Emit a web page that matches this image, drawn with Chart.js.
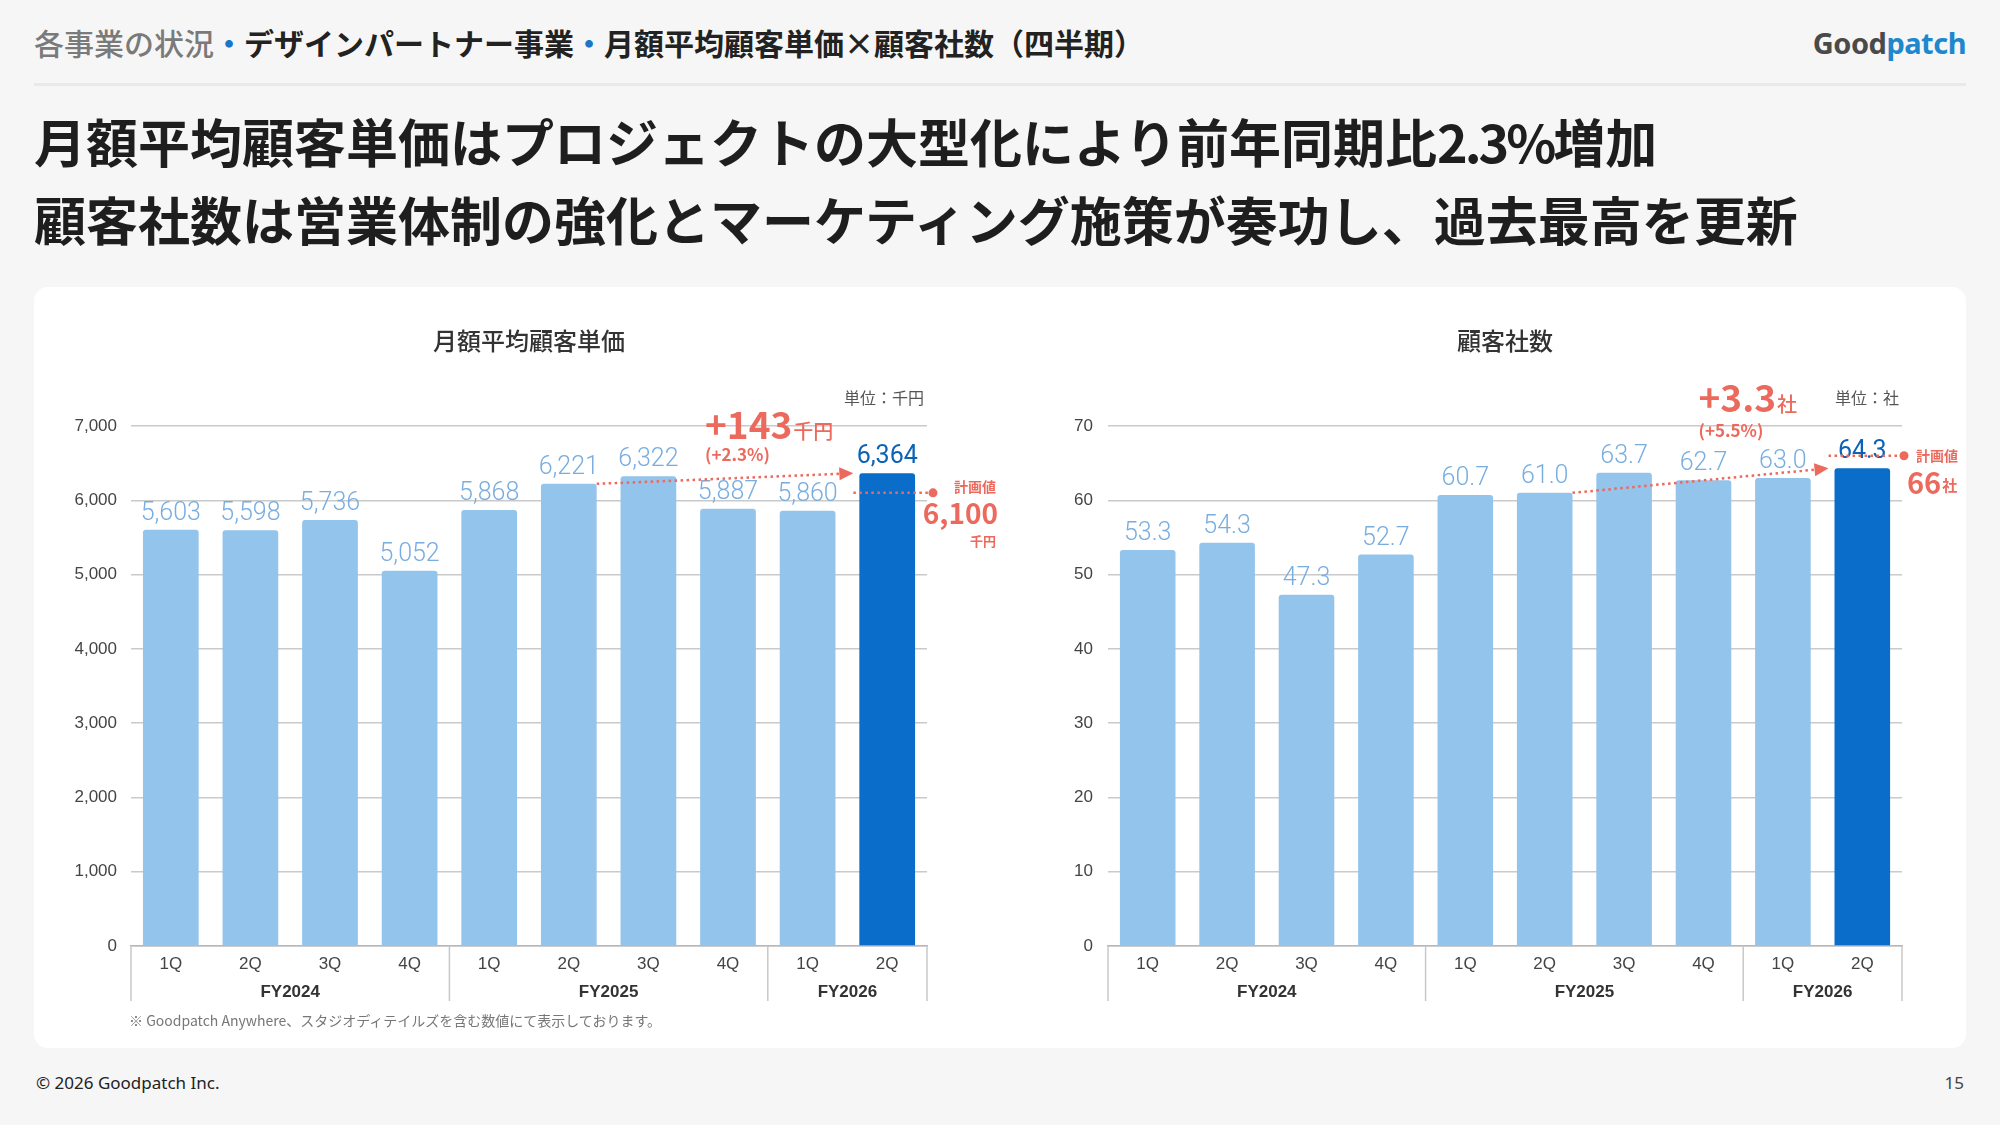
<!DOCTYPE html>
<html lang="ja">
<head>
<meta charset="utf-8">
<script src="https://cdn.jsdelivr.net/npm/chart.js@4.4.1/dist/chart.umd.min.js"></script>
<style>
html,body{margin:0;padding:0;}
body{width:2000px;height:1125px;background:#f6f6f6;position:relative;overflow:hidden;font-family:"Noto Sans CJK JP","Noto Sans",sans-serif;}
.hdr{position:absolute;left:34px;top:23px;font-size:30px;line-height:38px;font-weight:700;color:#222;white-space:nowrap;}
.hdr .g{color:#7a7a7a;font-weight:500}
.hdr .d{color:#1b75c9}
.logo{position:absolute;right:34px;top:24px;line-height:38px;font-family:"Noto Sans",sans-serif;font-weight:700;font-size:29px;letter-spacing:-0.5px}
.logo .a{color:#4a4a4a}.logo .b{color:#1f87cc}
.sep{position:absolute;left:34px;top:83px;width:1932px;height:3px;background:#e9e9e9}
.title{position:absolute;left:34px;top:102px;font-size:52px;font-weight:700;line-height:78px;color:#1e1e1e;white-space:nowrap}
.title .n{letter-spacing:-3px}
.card{position:absolute;left:34px;top:287px;width:1932px;height:761px;background:#fff;border-radius:14px}
canvas{position:absolute}
#c1{left:40px;top:300px}
#c2{left:1010px;top:300px}
.note{position:absolute;left:129px;top:1010px;font-size:14px;line-height:20px;color:#777;white-space:nowrap}
.foot{position:absolute;left:36px;top:1072px;font-size:17px;line-height:22px;color:#222;font-family:"Noto Sans","Noto Sans CJK JP",sans-serif}
.page{position:absolute;right:36px;top:1072px;font-size:17px;line-height:22px;color:#444;font-family:"Noto Sans",sans-serif}
</style>
</head>
<body>
<div class="hdr"><span class="g">各事業の状況</span><span class="d">・</span>デザインパートナー事業<span class="d">・</span>月額平均顧客単価×顧客社数（四半期）</div>
<div class="logo"><span class="a">Good</span><span class="b">patch</span></div>
<div class="sep"></div>
<div class="title">月額平均顧客単価はプロジェクトの大型化により前年同期比<span class="n">2.3%</span>増加<br>顧客社数は営業体制の強化とマーケティング施策が奏功し、過去最高を更新</div>
<div class="card"></div>
<canvas id="c1" width="970" height="720" style="width:970px;height:720px"></canvas>
<canvas id="c2" width="956" height="720" style="width:956px;height:720px"></canvas>
<div class="note">※ Goodpatch Anywhere、スタジオディテイルズを含む数値にて表示しております。</div>
<div class="foot">© 2026 Goodpatch Inc.</div>
<div class="page">15</div>
<script>
// ---- data ----
const quarters = ['1Q','2Q','3Q','4Q','1Q','2Q','3Q','4Q','1Q','2Q'];
const fiscalYears = ['FY2024','FY2025','FY2026'];
const fiscalYearSpans = [4,4,2];
const priceValues = [5603,5598,5736,5052,5868,6221,6322,5887,5860,6364];
const clientValues = [53.3,54.3,47.3,52.7,60.7,61.0,63.7,62.7,63.0,64.3];
const priceAxisMax = 7000, priceAxisStep = 1000;
const clientAxisMax = 70, clientAxisStep = 10;
const pricePlan = 6100, clientPlan = 66;
const priceDiff = '+143', priceDiffUnit = '千円', priceDiffPct = '(+2.3%)';
const clientDiff = '+3.3', clientDiffUnit = '社', clientDiffPct = '(+5.5%)';
const compareFrom = 5, compareTo = 9;

const RED = '#ec6a5d';
const LIGHT = '#93c4ec', DARK = '#0a6dc9';
const JP = '"Noto Sans CJK JP"';

const deco = {
  id: 'deco',
  afterDatasetsDraw(chart, args, o) {
    const ctx = chart.ctx, ca = chart.chartArea, ys = chart.scales.y;
    const meta = chart.getDatasetMeta(0);
    const vals = chart.data.datasets[0].data;
    const n = vals.length;
    const cw = (ca.right - ca.left) / n;
    ctx.save();
    // title
    ctx.font = '500 24px ' + JP; ctx.fillStyle = '#333'; ctx.textAlign = 'center'; ctx.textBaseline = 'middle';
    ctx.fillText(o.title, (ca.left + ca.right) / 2, ca.top - 85);
    // unit
    ctx.font = '400 16px ' + JP; ctx.fillStyle = '#555'; ctx.textAlign = 'right';
    ctx.fillText(o.unit, ca.right - 3, ca.top - 28);
    // value labels
    meta.data.forEach((bar, i) => {
      const last = i === n - 1;
      ctx.font = (last ? '400' : '300') + ' 25px Roboto, "Liberation Sans", sans-serif';
      ctx.fillStyle = last ? '#0b63b8' : '#78ade0';
      ctx.textAlign = 'center'; ctx.textBaseline = 'alphabetic';
      ctx.fillText(o.fmt(vals[i]), bar.x, bar.y - 10);
    });
    // fiscal year row
    ctx.strokeStyle = '#c8c8c8'; ctx.lineWidth = 1.5;
    let start = 0;
    const drawSep = (xx) => { ctx.beginPath(); ctx.moveTo(xx, ca.bottom); ctx.lineTo(xx, ca.bottom + 55); ctx.stroke(); };
    drawSep(ca.left);
    fiscalYears.forEach((fy, g) => {
      const end = start + fiscalYearSpans[g];
      const xl = ca.left + start * cw, xr = ca.left + end * cw;
      drawSep(xr);
      ctx.font = '700 17px "Liberation Sans Narrow", "Liberation Sans", sans-serif';
      ctx.fillStyle = '#333'; ctx.textAlign = 'center'; ctx.textBaseline = 'middle';
      ctx.fillText(fy, (xl + xr) / 2, ca.bottom + 46);
      start = end;
    });
    // comparison arrow
    const b0 = meta.data[compareFrom], b1 = meta.data[compareTo];
    const x0 = b0.x + b0.width / 2, y0 = b0.y;
    const x1 = b1.x - b1.width / 2 - 6, y1 = b1.y;
    const ang = Math.atan2(y1 - y0, x1 - x0);
    ctx.strokeStyle = RED; ctx.fillStyle = RED; ctx.lineWidth = 2.5; ctx.setLineDash([2.5, 3.5]);
    ctx.beginPath(); ctx.moveTo(x0, y0); ctx.lineTo(x1 - 12 * Math.cos(ang), y1 - 12 * Math.sin(ang)); ctx.stroke();
    ctx.setLineDash([]);
    ctx.beginPath();
    ctx.moveTo(x1, y1);
    ctx.lineTo(x1 - 14 * Math.cos(ang) + 6.5 * Math.sin(ang), y1 - 14 * Math.sin(ang) - 6.5 * Math.cos(ang));
    ctx.lineTo(x1 - 14 * Math.cos(ang) - 6.5 * Math.sin(ang), y1 - 14 * Math.sin(ang) + 6.5 * Math.cos(ang));
    ctx.closePath(); ctx.fill();
    // diff text
    const bx = meta.data[7].x + o.diffDx;
    ctx.textAlign = 'left'; ctx.textBaseline = 'alphabetic';
    ctx.font = '700 37px ' + JP;
    const bigY = ca.top + o.diffDy + 13;
    ctx.fillText(o.diff, bx, bigY);
    const w = ctx.measureText(o.diff).width;
    ctx.font = '500 20px ' + JP;
    ctx.fillText(o.diffUnit, bx + w + 1, bigY);
    ctx.font = '600 17px ' + JP; ctx.textBaseline = 'middle';
    ctx.fillText(o.diffPct, bx, ca.top + o.pctDy);
    // plan line
    const yp = ys.getPixelForValue(o.plan);
    const dotX = ca.right + o.dotDx;
    ctx.lineWidth = 2.5; ctx.setLineDash([2.5, 3.5]);
    ctx.beginPath(); ctx.moveTo(x1, yp); ctx.lineTo(dotX, yp); ctx.stroke();
    ctx.setLineDash([]);
    ctx.beginPath(); ctx.arc(dotX, yp, 4.5, 0, Math.PI * 2); ctx.fill();
    o.drawPlan(ctx, ca, yp, dotX);
    ctx.restore();
  }
};

function makeChart(id, values, max, step, padRight, yWidth, opts) {
  const colors = values.map((v, i) => i === values.length - 1 ? DARK : LIGHT);
  return new Chart(document.getElementById(id), {
    type: 'bar',
    data: { labels: quarters, datasets: [{ data: values, backgroundColor: colors, borderRadius: { topLeft: 3, topRight: 3 }, borderSkipped: 'bottom', categoryPercentage: 1, barPercentage: 0.7 }] },
    options: {
      responsive: false, animation: false, devicePixelRatio: 1,
      layout: { padding: { left: 0, top: 126, right: padRight, bottom: 19 } },
      plugins: { legend: { display: false }, tooltip: { enabled: false }, deco: opts },
      scales: {
        x: {
          grid: { display: false, drawTicks: false },
          border: { display: true, color: '#b8b8b8', width: 1.5 },
          ticks: { padding: 8, color: '#444', font: { family: '"Liberation Sans Narrow", "Liberation Sans", sans-serif', size: 17 } },
          afterFit: s => { s.height = 55; }
        },
        y: {
          min: 0, max: max,
          grid: { color: '#cacaca', lineWidth: 1.5, drawTicks: false },
          border: { display: false },
          ticks: { stepSize: step, padding: yWidth === 91 ? 14 : 15, color: '#444',
            font: { family: '"Liberation Sans", sans-serif', size: 17 },
            callback: v => v.toLocaleString('en-US') },
          afterFit: s => { s.width = yWidth; }
        }
      }
    },
    plugins: [deco]
  });
}

makeChart('c1', priceValues, priceAxisMax, priceAxisStep, 83, 91, {
  title: '月額平均顧客単価', unit: '単位：千円',
  fmt: v => v.toLocaleString('en-US'),
  diff: priceDiff, diffUnit: priceDiffUnit, diffPct: priceDiffPct, diffDx: -23, diffDy: 0, pctDy: 29,
  plan: pricePlan, dotDx: 6,
  drawPlan: (ctx, ca, yp, dotX) => {
    const rx = ca.right + 69;
    ctx.textAlign = 'right'; ctx.textBaseline = 'middle';
    ctx.font = '600 14px ' + JP; ctx.fillText('計画値', rx, yp - 6);
    ctx.font = '700 28px ' + JP; ctx.fillText(pricePlan.toLocaleString('en-US'), rx + 2, yp + 21);
    ctx.font = '600 13px ' + JP; ctx.fillText('千円', rx, yp + 48);
  }
});

makeChart('c2', clientValues, clientAxisMax, clientAxisStep, 64, 98, {
  title: '顧客社数', unit: '単位：社',
  fmt: v => v.toFixed(1),
  diff: clientDiff, diffUnit: clientDiffUnit, diffPct: clientDiffPct, diffDx: -5, diffDy: -27, pctDy: 5,
  plan: clientPlan, dotDx: 2,
  drawPlan: (ctx, ca, yp, dotX) => {
    ctx.textAlign = 'left'; ctx.textBaseline = 'middle';
    ctx.font = '600 14px ' + JP; ctx.fillText('計画値', dotX + 12, yp);
    ctx.font = '700 29px ' + JP; ctx.fillText(String(clientPlan), dotX + 3, yp + 27);
    const w = ctx.measureText(String(clientPlan)).width;
    ctx.font = '600 15px ' + JP; ctx.fillText('社', dotX + 4 + w, yp + 30);
  }
});
</script>
</body>
</html>
